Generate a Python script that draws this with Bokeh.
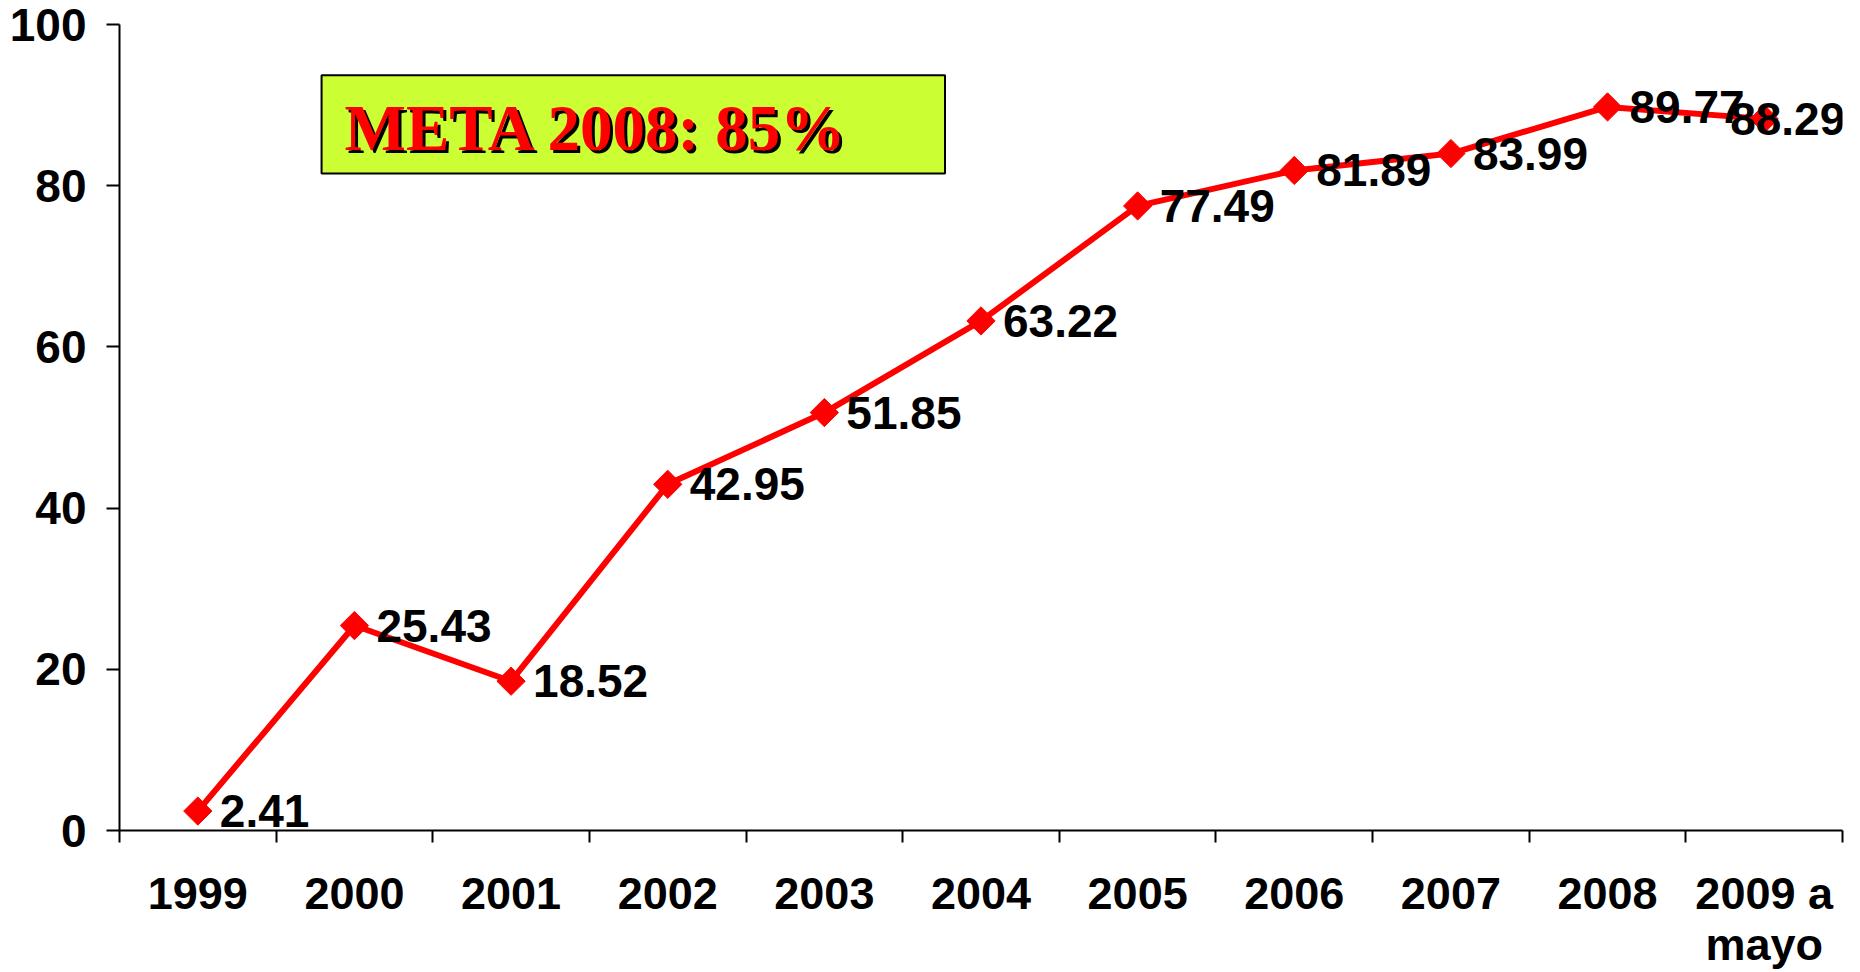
from bokeh.plotting import figure
from bokeh.models import Range1d, FixedTicker, ColumnDataSource, LabelSet, Label, BoxAnnotation
from bokeh.core.properties import value
from bokeh.embed import file_html
from bokeh.resources import INLINE
import math

# ---- data ----
categories = ["1999", "2000", "2001", "2002", "2003", "2004", "2005", "2006",
              "2007", "2008", "2009 a\nmayo"]
values = [2.41, 25.43, 18.52, 42.95, 51.85, 63.22, 77.49, 81.89, 83.99, 89.77, 88.29]
y_ticks = [0, 20, 40, 60, 80, 100]
goal_text = "META 2008: 85%"

# ---- layout helpers ----
n = len(categories)
xpos = [i + 0.5 for i in range(n)]
label_dx = [22] * (n - 1) + [-34]
RED = "#FF0000"
SANS = "Liberation Sans"

p = figure(width=1860, height=972,
           x_range=Range1d(0, n), y_range=Range1d(0, 100),
           output_backend="svg", toolbar_location=None,
           min_border_left=119, min_border_right=18,
           min_border_top=24, min_border_bottom=142)
p.xgrid.visible = False
p.ygrid.visible = False
p.outline_line_color = None
p.background_fill_color = "white"
p.border_fill_color = "white"

# x axis: labels at category centres, ticks at boundaries
xa = p.xaxis[0]
xa.ticker = FixedTicker(ticks=xpos, minor_ticks=list(range(n + 1)))
xa.major_label_overrides = {x: c for x, c in zip(xpos, categories)}
xa.major_tick_line_color = None
xa.major_tick_out = 0
xa.major_tick_in = 0
xa.minor_tick_out = 12
xa.minor_tick_in = 0
xa.minor_tick_line_color = "black"
xa.minor_tick_line_width = 2
xa.axis_line_color = "black"
xa.axis_line_width = 2
xa.major_label_text_font = SANS
xa.major_label_text_font_style = "bold"
xa.major_label_text_font_size = "45px"
xa.major_label_text_color = "black"
xa.major_label_text_line_height = 1.0
xa.major_label_standoff = 25

ya = p.yaxis[0]
ya.ticker = FixedTicker(ticks=y_ticks, minor_ticks=[])
ya.major_tick_out = 13
ya.major_tick_in = 0
ya.major_tick_line_color = "black"
ya.major_tick_line_width = 2
ya.minor_tick_line_color = None
ya.axis_line_color = "black"
ya.axis_line_width = 2
ya.major_label_text_font = SANS
ya.major_label_text_font_style = "bold"
ya.major_label_text_font_size = "46px"
ya.major_label_text_color = "black"
ya.major_label_standoff = 20

# goal box
p.add_layout(BoxAnnotation(left=1.29, right=5.27, bottom=81.5, top=93.7,
                           fill_color="#CCFF33", fill_alpha=1.0,
                           line_color="black", line_alpha=1.0, line_width=2,
                           level="underlay"))
p.add_layout(Label(x=1.437, y=87.2, text=goal_text, x_offset=3, y_offset=-3,
                   text_font="Liberation Serif", text_font_style="bold",
                   text_font_size="65px", text_color="black",
                   text_baseline="alphabetic"))
p.add_layout(Label(x=1.437, y=87.2, text=goal_text,
                   text_font="Liberation Serif", text_font_style="bold",
                   text_font_size="65px", text_color=RED,
                   text_baseline="alphabetic"))

src = ColumnDataSource(dict(x=xpos, y=values,
                            lab=[f"{v:.2f}" for v in values],
                            dx=label_dx))
p.line("x", "y", source=src, line_color=RED, line_width=6)
p.scatter("x", "y", source=src, marker="square", angle=math.pi / 4, size=20,
          fill_color=RED, line_color=RED)
p.add_layout(LabelSet(x="x", y="y", text="lab", source=src, x_offset="dx",
                      text_font=value(SANS), text_font_style="bold",
                      text_font_size="46px", text_color="black",
                      text_align="left", text_baseline="middle"))

open("out.html", "w").write(file_html(p, INLINE))
